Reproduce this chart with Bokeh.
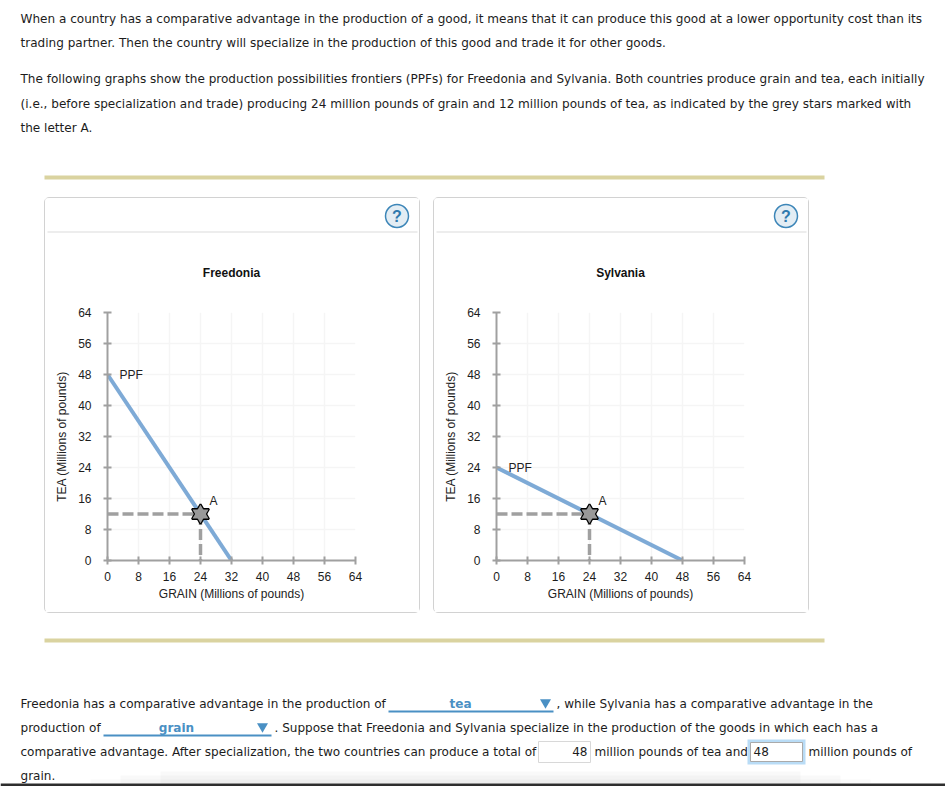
from bokeh.plotting import figure
from bokeh.layouts import column, row
from bokeh.models import FixedTicker, Range1d
from bokeh.core.properties import value
from bokeh.embed import file_html
from bokeh.resources import INLINE

ticks = [0, 8, 16, 24, 32, 40, 48, 56, 64]
point_a = (24, 12)
countries = ["Freedonia", "Sylvania"]
ppf_grain = [[0, 32], [0, 48]]
ppf_tea = [[48, 0], [24, 0]]
x_title = "GRAIN (Millions of pounds)"
y_title = "TEA (Millions of pounds)"
top_text = [
    "When a country has a comparative advantage in the production of a good, it means that it can produce this good at a lower opportunity cost than its",
    "trading partner. Then the country will specialize in the production of this good and trade it for other goods.",
    "The following graphs show the production possibilities frontiers (PPFs) for Freedonia and Sylvania. Both countries produce grain and tea, each initially",
    "(i.e., before specialization and trade) producing 24 million pounds of grain and 12 million pounds of tea, as indicated by the grey stars marked with",
    "the letter A.",
]
top_y = [18, 42, 78, 103, 127]
answers = ["tea", "grain", "48", "48"]

BODY = "DejaVu Sans"
CHART = "Liberation Sans"
BLUE = "#4a90c4"
INK = "#1c1c1c"
W = 945


def page_fig(x0, x1, y0, y1):
    p = figure(width=x1 - x0, height=y1 - y0, x_range=Range1d(x0, x1), y_range=Range1d(y1, y0),
               x_axis_type=None, y_axis_type=None, toolbar_location=None, output_backend="svg",
               min_border=0, outline_line_color=None)
    p.grid.visible = False
    return p


def say(p, x, y, s, size="12.05px", color=INK, style="normal", align="left", font=BODY):
    p.text([x], [y], text=[s], text_font=value(font), text_font_size=value(size), text_color=color,
           text_font_style=style, text_align=align, text_baseline="middle")


def header(i, x0):
    # top of the panel: rule, help icon, title
    p = page_fig(x0, x0 + 374, 198, 290)
    p.quad(left=x0 + 2, right=x0 + 372, top=231, bottom=232, fill_color="#dcdcdc", line_color=None)
    p.circle([x0 + 351.5], [215.5], radius=11.5, fill_color="#e3edf4", line_color="#3d86b8", line_width=1.5)
    say(p, x0 + 351.5, 215.5, "?", size="16px", color="#2f79ad", style="bold", align="center", font=CHART)
    say(p, x0 + 186, 272, countries[i], size="12px", color="#111111", style="bold", align="center", font=CHART)
    return p


def chart(i, left):
    p = figure(width=374, height=322, x_range=Range1d(0, 64), y_range=Range1d(0, 64),
               toolbar_location=None, output_backend="svg", outline_line_color=None,
               min_border_left=left, min_border_right=374 - left - 248,
               min_border_top=22, min_border_bottom=52,
               x_axis_label=x_title, y_axis_label=y_title)
    p.xaxis.ticker = FixedTicker(ticks=ticks)
    p.yaxis.ticker = FixedTicker(ticks=ticks)
    for ax in (p.xaxis[0], p.yaxis[0]):
        ax.axis_line_color = "#a0a0a0"
        ax.axis_line_width = 2
        ax.major_tick_line_color = "#a0a0a0"
        ax.major_tick_line_width = 2
        ax.major_tick_in = 4
        ax.major_tick_out = 4
        ax.minor_tick_line_color = None
        ax.major_label_text_font = CHART
        ax.major_label_text_font_size = "12px"
        ax.major_label_text_color = INK
        ax.axis_label_text_font = CHART
        ax.axis_label_text_font_size = "12px"
        ax.axis_label_text_font_style = "normal"
        ax.axis_label_text_color = "#222222"
    p.xaxis[0].major_label_standoff = 7
    p.xaxis[0].axis_label_standoff = 3
    p.yaxis[0].major_label_text_align = "center"
    p.yaxis[0].major_label_standoff = 12
    p.yaxis[0].axis_label_standoff = 6
    p.grid.grid_line_color = "#f5f5f5"
    p.grid.grid_line_width = 1.5
    p.xgrid.ticker = FixedTicker(ticks=ticks)
    p.ygrid.ticker = FixedTicker(ticks=ticks)

    ax_, ay_ = point_a
    p.line(ppf_grain[i], ppf_tea[i], line_color="#7eaad6", line_width=4)
    p.line([0, ax_], [ay_, ay_], line_color="#a0a0a0", line_width=3.5, line_dash="11 4")
    p.line([ax_, ax_], [ay_, 0], line_color="#a0a0a0", line_width=3.5, line_dash="11 4")
    for m in ("triangle", "inverted_triangle"):
        p.scatter([ax_], [ay_], marker=m, size=17, fill_color="#999999", line_color="#000000", line_width=2)
    for m in ("triangle", "inverted_triangle"):
        p.scatter([ax_], [ay_], marker=m, size=16, fill_color="#999999", line_color=None)
    p.text([ppf_grain[i][0]], [ppf_tea[i][0]], text=["PPF"], x_offset=12, text_font=value(CHART),
           text_font_size=value("12px"), text_baseline="middle", text_color="#222222")
    p.text([ax_], [ay_], text=["A"], x_offset=9, y_offset=-13, text_font=value(CHART),
           text_font_size=value("12px"), text_baseline="middle", text_color="#222222")
    return p


PANEL = {"border": "1px solid #d2d2d2", "border-radius": "5px", "box-sizing": "content-box"}

# top block
top = page_fig(0, W, 0, 190)
for y, s in zip(top_y, top_text):
    say(top, 20, y, s)
top.quad(left=44, right=824, top=175, bottom=179, fill_color="#dad3a0", line_color=None)

# charts: each figure wrapped in its own row so the header's frame keeps its full width
p1 = column(row(header(0, 45)), row(chart(0, 62)), spacing=0, styles=PANEL, margin=(7, 4, 7, 44))
p2 = column(row(header(1, 434)), row(chart(1, 62)), spacing=0, styles=PANEL, margin=(7, 136, 7, 9))

# bottom block
bot = page_fig(0, W, 620, 786)
for sx0, sx1, sy in ((160, 800, 771), (120, 840, 775), (90, 870, 779)):
    bot.quad(left=sx0, right=sx1, top=sy, bottom=783, fill_color="#000000", fill_alpha=0.025, line_color=None)
bot.quad(left=44, right=824, top=638, bottom=642, fill_color="#dad3a0", line_color=None)
say(bot, 20, 703, "Freedonia has a comparative advantage in the production of")
bot.quad(left=388, right=553, top=710, bottom=712, fill_color=BLUE, line_color=None)
say(bot, 460, 703, answers[0], style="bold", color=BLUE, align="center")
bot.scatter([545], [702], marker="inverted_triangle", size=11, fill_color=BLUE, line_color=None)
say(bot, 556, 703, ", while Sylvania has a comparative advantage in the")
say(bot, 20, 727, "production of")
bot.quad(left=103, right=271, top=734, bottom=736, fill_color=BLUE, line_color=None)
say(bot, 176, 727, answers[1], style="bold", color=BLUE, align="center")
bot.scatter([262], [726], marker="inverted_triangle", size=11, fill_color=BLUE, line_color=None)
say(bot, 274, 727, ". Suppose that Freedonia and Sylvania specialize in the production of the goods in which each has a")
say(bot, 20, 751, "comparative advantage. After specialization, the two countries can produce a total of")
bot.quad(left=538, right=590, top=741, bottom=762, fill_color="white", line_color="#d8d8d8", line_width=1)
say(bot, 587, 751, answers[2], align="right")
say(bot, 594, 751, "million pounds of tea and")
bot.quad(left=747, right=805, top=739, bottom=764, fill_color="#b9dcf6", line_color=None)
bot.quad(left=750, right=802, top=742, bottom=761, fill_color="white", line_color="#aaaaaa", line_width=1)
say(bot, 753, 751, answers[3])
say(bot, 808, 751, "million pounds of")
say(bot, 20, 775, "grain.")
bot.quad(left=0, right=945, top=783, bottom=786, fill_color="#2e2e2e", line_color=None)

page = column(top, row(p1, p2, spacing=0), bot, spacing=0)
open("out.html", "w").write(file_html(page, INLINE))
